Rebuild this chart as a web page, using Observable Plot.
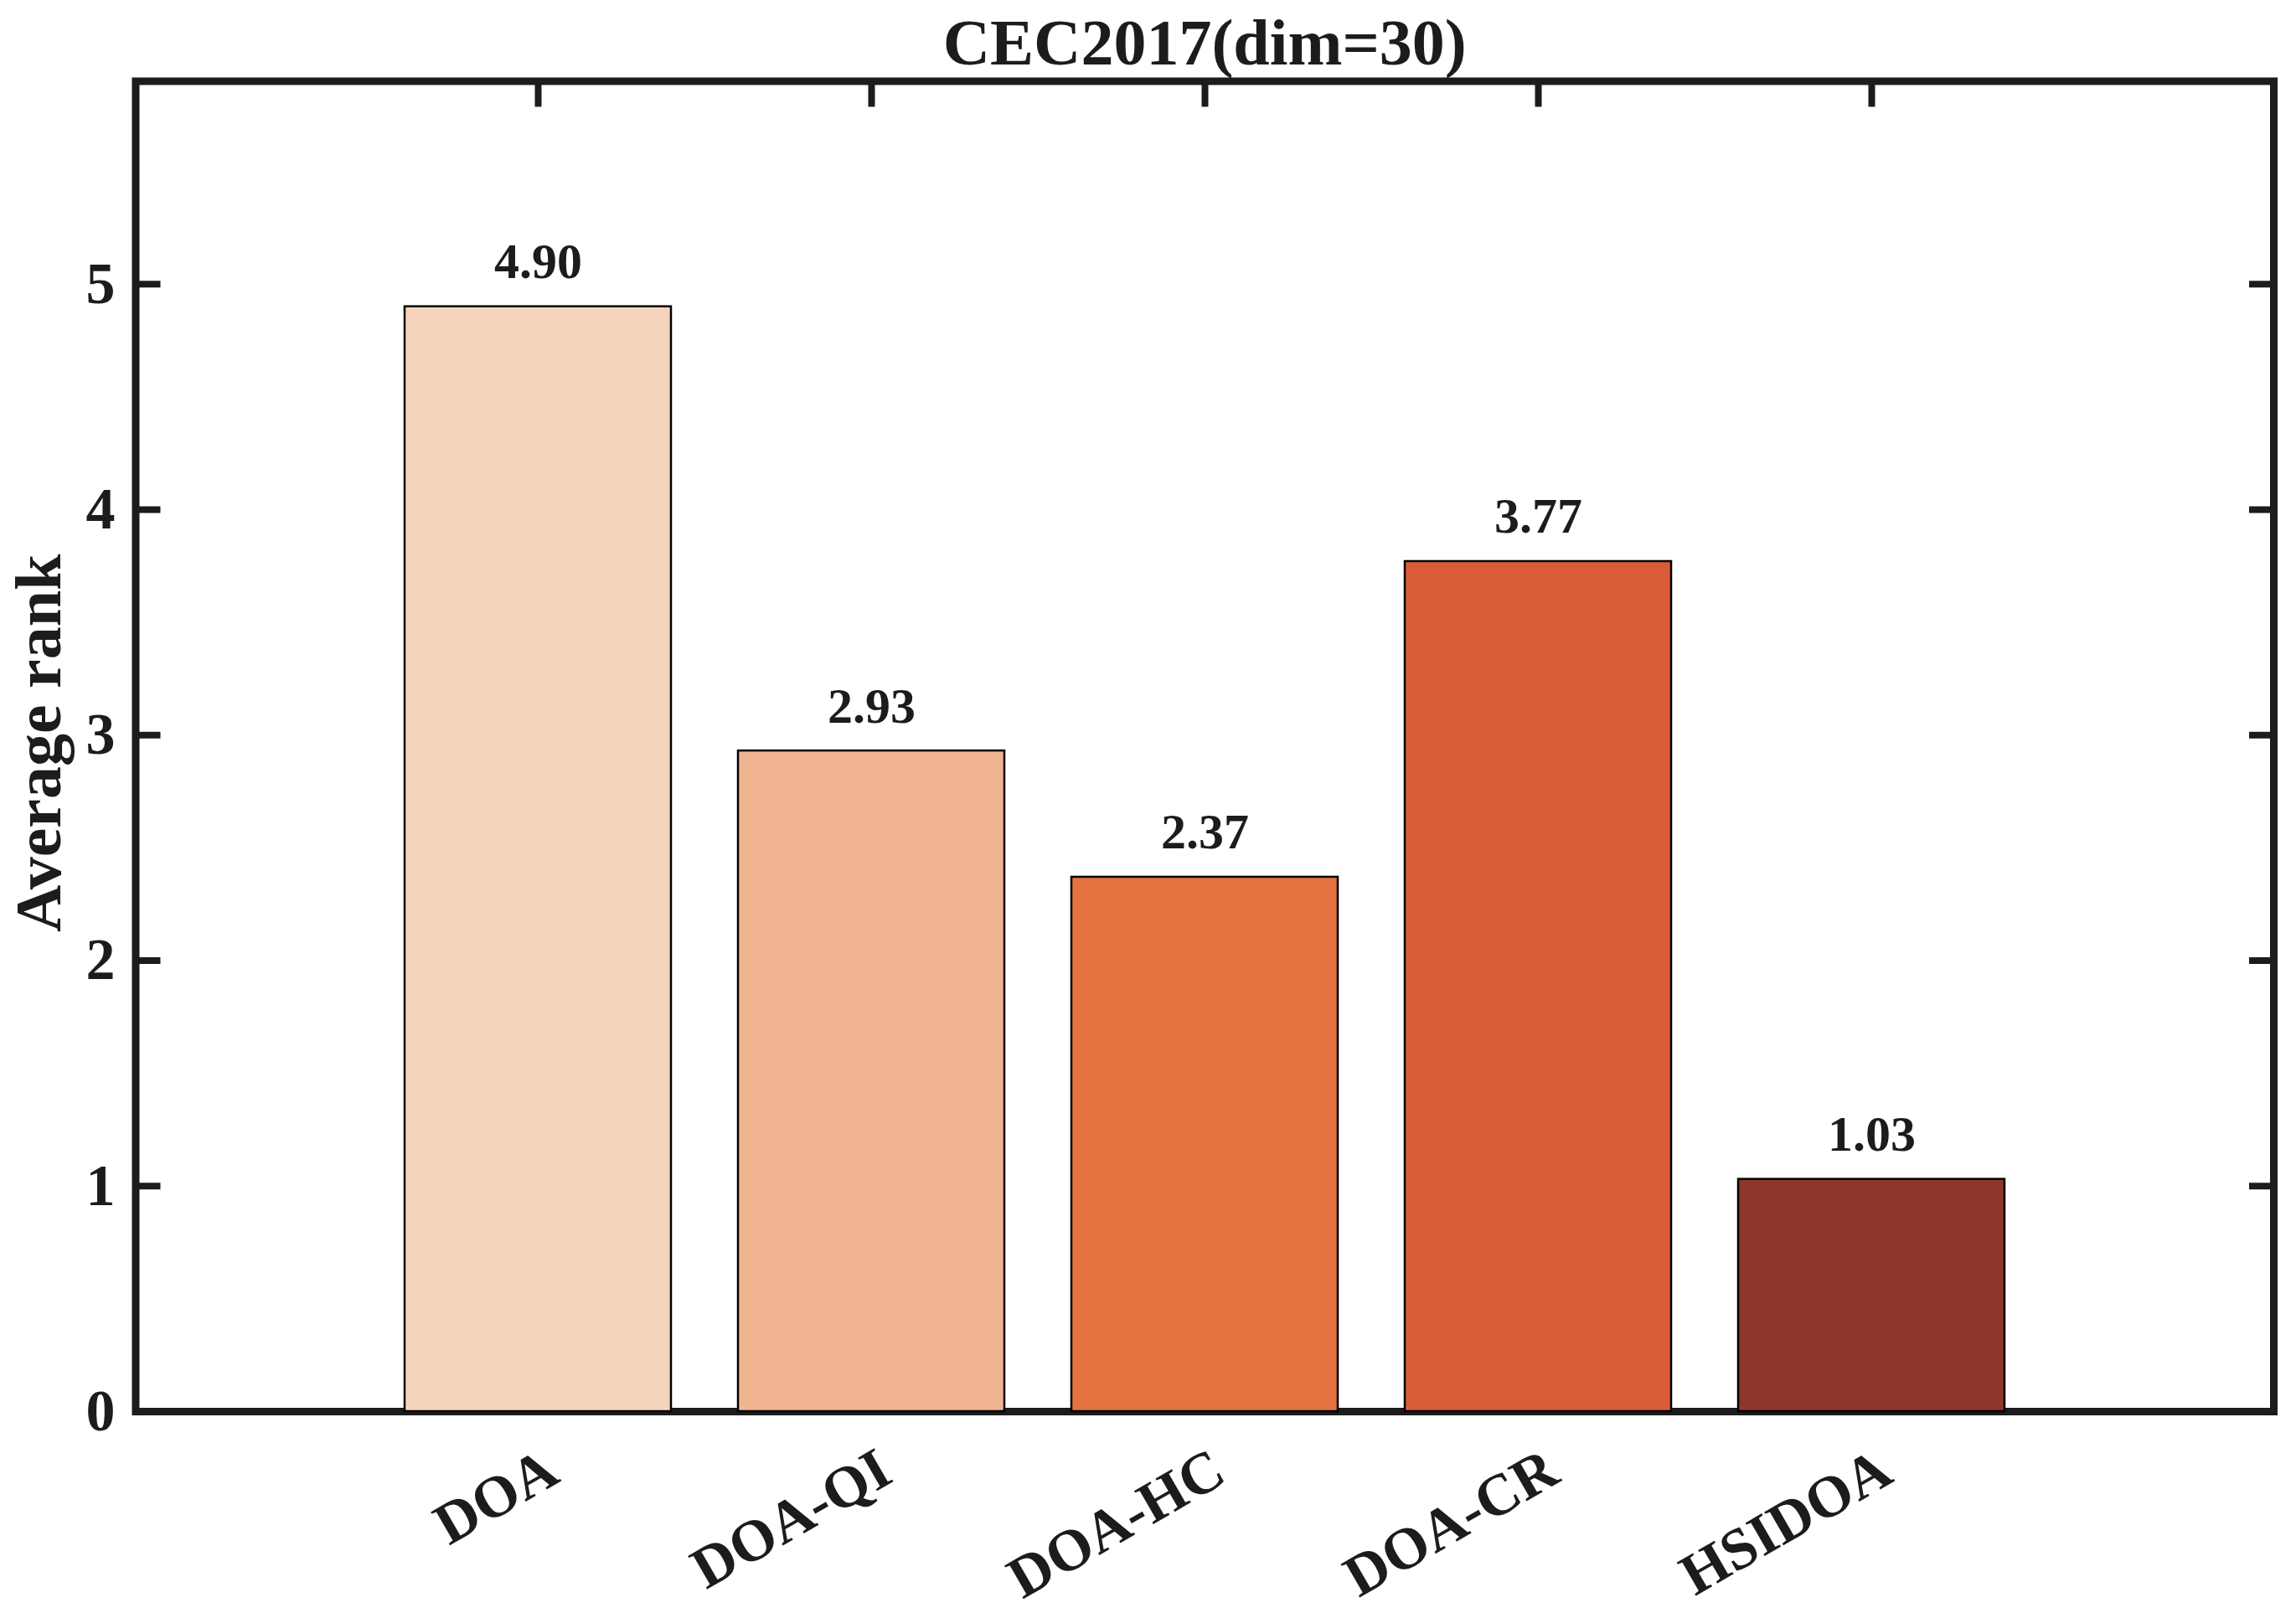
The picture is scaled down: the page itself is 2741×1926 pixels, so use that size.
<!DOCTYPE html>
<html><head><meta charset="utf-8">
<script src="https://cdn.jsdelivr.net/npm/d3@7"></script>
<script src="https://cdn.jsdelivr.net/npm/@observablehq/plot@0.6"></script>
<style>html,body{margin:0;padding:0;background:#fff;overflow:hidden}</style>
</head><body><div id="chart"></div>
<script>
const algorithms = ["DOA", "DOA-QI", "DOA-HC", "DOA-CR", "HSIDOA"];
const avgRank = [4.90, 2.93, 2.37, 3.77, 1.03];
const barColors = ["#F6D4BB", "#F0B491", "#E47341", "#D85D37", "#8E372A"];
const yTicks = [0, 1, 2, 3, 4, 5];
const titleText = "CEC2017(dim=30)";
const yLabel = "Average rank";

const data = algorithms.map((a, i) => ({alg: a, rank: avgRank[i]}));
const W = 2741, H = 1926;
const ink = "#1c1c1c";
const font = "'Liberation Serif','Times New Roman',serif";

const plot = Plot.plot({
  width: W, height: H,
  marginTop: 96.5, marginLeft: 161.5, marginRight: 27, marginBottom: 241,
  style: {fontFamily: font, fontWeight: "bold", background: "#fff", color: ink},
  x: {type: "band", domain: algorithms, paddingInner: 0.2, paddingOuter: 0.8, align: 0.5},
  y: {domain: [0, 5.9]},
  color: {type: "ordinal", domain: algorithms, range: barColors},
  marks: [
    Plot.frame({stroke: ink, strokeWidth: 9}),
    Plot.barY(data, {x: "alg", y: "rank", fill: "alg", stroke: "#000", strokeWidth: 2.5}),
    Plot.axisY(yTicks, {anchor: "left", tickSize: -30, strokeWidth: 8, stroke: ink, fill: "none", label: null}),
    Plot.axisY(yTicks, {anchor: "right", tickSize: -30, strokeWidth: 8, stroke: ink, fill: "none", label: null}),
    Plot.axisY(yTicks, {anchor: "left", tickSize: 0, tickPadding: 24.5, tickFormat: d3.format("d"), fontSize: 70, fill: ink, label: null}),
    Plot.axisX({anchor: "top", tickSize: -30, strokeWidth: 8, stroke: ink, fill: "none", label: null}),
    Plot.axisX({anchor: "bottom", tickSize: 0, fill: "none", label: null}),
    Plot.text(data, {x: "alg", y: "rank", text: d => d.rank.toFixed(2), lineAnchor: "bottom", dy: -34, fontSize: 60, fill: ink}),
    Plot.text(algorithms, {x: d => d, frameAnchor: "bottom", text: d => d, rotate: -30, textAnchor: "end", lineAnchor: "middle", dx: 17, dy: 63, fontSize: 70, fill: ink}),
    Plot.text([yLabel], {frameAnchor: "left", text: d => d, rotate: -90, textAnchor: "middle", lineAnchor: "bottom", dx: -90, dy: -4, fontSize: 78, fill: ink}),
    Plot.text([titleText], {frameAnchor: "top", text: d => d, textAnchor: "middle", lineAnchor: "bottom", dy: -20.5, fontSize: 78, fill: ink})
  ]
});
document.getElementById("chart").appendChild(plot);
</script>
</body></html>
